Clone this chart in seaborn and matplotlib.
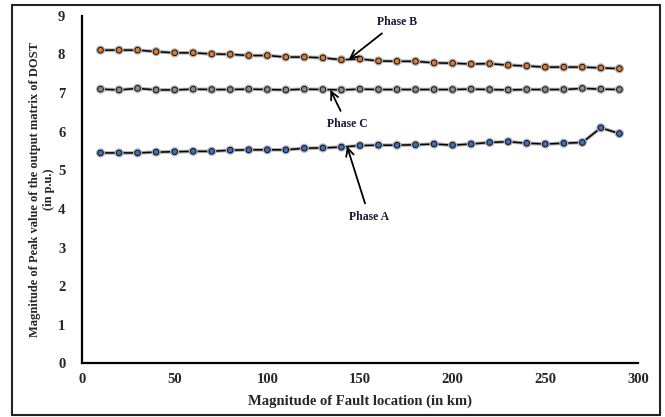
import matplotlib
matplotlib.use("Agg")
import matplotlib.pyplot as plt
import matplotlib.patheffects as pe
from matplotlib.patches import Rectangle
import pandas as pd
import seaborn as sns

# values
fault_km = [10, 20, 30, 40, 50, 60, 70, 80, 90, 100, 110, 120, 130, 140, 150,
            160, 170, 180, 190, 200, 210, 220, 230, 240, 250, 260, 270, 280, 290]
phase_a = [5.45, 5.45, 5.45, 5.47, 5.48, 5.49, 5.49, 5.52, 5.53, 5.53, 5.53, 5.57, 5.58, 5.60, 5.64,
           5.65, 5.65, 5.66, 5.68, 5.65, 5.68, 5.72, 5.74, 5.70, 5.68, 5.70, 5.72, 6.10, 5.95]
phase_b = [8.11, 8.11, 8.11, 8.07, 8.04, 8.04, 8.01, 8.00, 7.97, 7.97, 7.93, 7.93, 7.91, 7.86, 7.88,
           7.83, 7.82, 7.82, 7.78, 7.77, 7.75, 7.76, 7.72, 7.70, 7.67, 7.67, 7.67, 7.65, 7.63]
phase_c = [7.10, 7.08, 7.12, 7.08, 7.08, 7.10, 7.09, 7.09, 7.10, 7.09, 7.08, 7.10, 7.09, 7.08, 7.10,
           7.09, 7.09, 7.09, 7.09, 7.09, 7.10, 7.09, 7.08, 7.09, 7.09, 7.09, 7.12, 7.10, 7.09]

sns.set_style("white")
plt.rcParams['font.family'] = ['Liberation Serif', 'DejaVu Serif']
plt.rcParams['font.weight'] = 'bold'

fig = plt.figure(figsize=(6.65, 4.17), dpi=100)
ax = fig.add_axes([0.1233, 0.1283, 0.836, 0.834])

shadow = [pe.Stroke(linewidth=2.6, foreground='#b0b0b0'), pe.Normal()]
series = [(phase_b, '#e07b2a'), (phase_c, '#8c8c8c'), (phase_a, '#3a6fc4')]
for vals, fc in series:
    df = pd.DataFrame({'km': fault_km, 'val': vals})
    sns.lineplot(data=df, x='km', y='val', ax=ax, color='black', lw=1.1,
                 marker='o', markersize=4, markerfacecolor=fc,
                 markeredgecolor='black', markeredgewidth=0.6,
                 path_effects=shadow)

ax.set_xlim(0, 300)
ax.set_ylim(0, 9)
ax.set_xticks(range(0, 301, 50))
ax.set_yticks(range(0, 10))
ax.tick_params(axis='x', length=0, labelsize=10.5, pad=7)
ax.tick_params(axis='y', length=0, labelsize=10.5, pad=12)
for lab in ax.get_xticklabels() + ax.get_yticklabels():
    lab.set_fontweight('bold')
for s in ['top', 'right']:
    ax.spines[s].set_visible(False)
for s in ['left', 'bottom']:
    ax.spines[s].set_color('black')
    ax.spines[s].set_linewidth(1.6)

ax.set_xlabel('Magnitude of Fault location (in km)', fontsize=10.5, fontweight='bold', labelpad=6)
ax.set_ylabel('Magnitude of Peak value of the output matrix of DOST\n(in p.u.)',
              fontsize=9.0, fontweight='bold', labelpad=2, linespacing=1.2)

arrow = dict(arrowstyle='->', color='black', lw=1.3, mutation_scale=14, shrinkA=3, shrinkB=0)
ax.annotate('Phase B', xy=(144, 7.87), xytext=(170, 8.85), fontsize=8.5, fontweight='bold',
            ha='center', va='center', color='#1a1a3a', arrowprops=arrow)
ax.annotate('Phase C', xy=(134, 7.08), xytext=(143, 6.2), fontsize=8.5, fontweight='bold',
            ha='center', va='center', color='#1a1a3a', arrowprops=arrow)
ax.annotate('Phase A', xy=(143, 5.62), xytext=(155, 3.8), fontsize=8.5, fontweight='bold',
            ha='center', va='center', color='#1a1a3a', arrowprops=arrow)

fig.patches.append(Rectangle((12 / 665, 2 / 417), 648 / 665, 410 / 417, transform=fig.transFigure,
                             fill=False, edgecolor='#222222', lw=1.5))

fig.savefig('out.png', dpi=100)
